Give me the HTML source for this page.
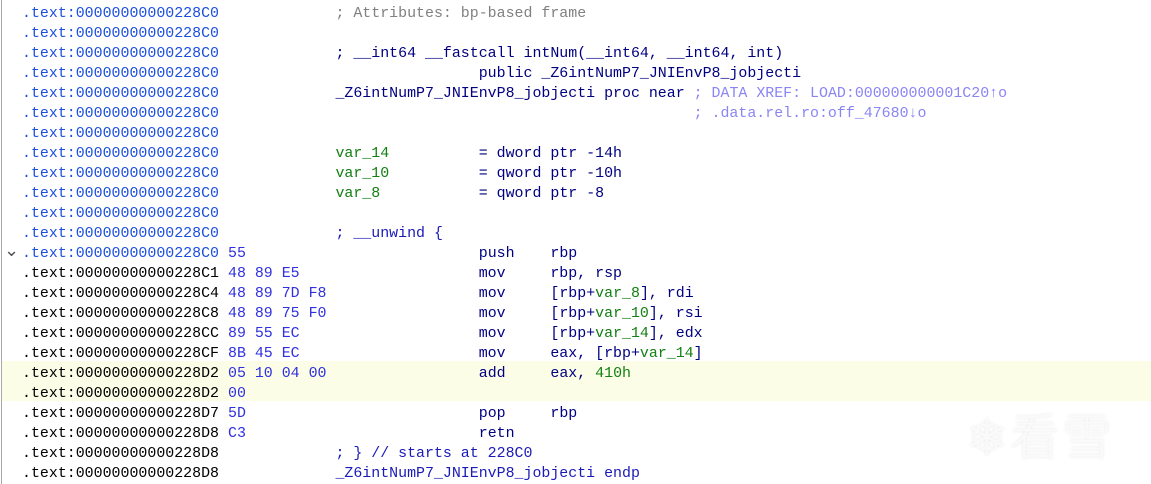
<!DOCTYPE html>
<html><head><meta charset="utf-8"><style>
html,body{margin:0;padding:0;background:#fff;width:1151px;height:484px;overflow:hidden;position:relative}
.b{position:absolute;left:1px;top:0;width:1px;height:484px;background:#a8a8a8}
.hl{position:absolute;left:2px;top:361px;width:1149px;height:40px;background:#fbfde6}
pre{margin:0;position:absolute;left:22px;top:4px;font-family:"Liberation Mono",monospace;font-size:14.93px;line-height:20px;color:#000080}
.a{color:#1c4fe0}.k{color:#000}.y{color:#3030e0}.c{color:#808080}.x{color:#8a85f5}.g{color:#128012}.n{color:#1a1ab8}.m{color:#000080}
.chev{position:absolute;left:4px;top:240px;font-family:"DejaVu Sans",sans-serif;font-size:18px;color:#555}
.wm{position:absolute;left:966px;top:398px;font-family:"Noto Sans CJK SC",sans-serif;font-size:50px;font-weight:300;color:#fafafa;letter-spacing:2px;text-shadow:0 0 3px #e8e8e8}
</style></head><body>
<div class="b"></div><div class="hl"></div>
<div class="chev">&#8964;</div>
<div class="wm">❄看雪</div>
<pre><span class="a">.text:00000000000228C0</span>             <span class="c">; Attributes: bp-based frame</span>
<span class="a">.text:00000000000228C0</span>
<span class="a">.text:00000000000228C0</span>             <span class="m">; __int64 __fastcall intNum(__int64, __int64, int)</span>
<span class="a">.text:00000000000228C0</span>                             <span class="m">public _Z6intNumP7_JNIEnvP8_jobjecti</span>
<span class="a">.text:00000000000228C0</span>             <span class="m">_Z6intNumP7_JNIEnvP8_jobjecti proc near</span> <span class="x">; DATA XREF: LOAD:000000000001C20↑o</span>
<span class="a">.text:00000000000228C0</span>                                                     <span class="x">; .data.rel.ro:off_47680↓o</span>
<span class="a">.text:00000000000228C0</span>
<span class="a">.text:00000000000228C0</span>             <span class="g">var_14</span>          <span class="m">= dword ptr -14h</span>
<span class="a">.text:00000000000228C0</span>             <span class="g">var_10</span>          <span class="m">= qword ptr -10h</span>
<span class="a">.text:00000000000228C0</span>             <span class="g">var_8</span>           <span class="m">= qword ptr -8</span>
<span class="a">.text:00000000000228C0</span>
<span class="a">.text:00000000000228C0</span>             <span class="n">; __unwind {</span>
<span class="a">.text:00000000000228C0</span> <span class="y">55</span>                          <span class="m">push    rbp</span>
<span class="k">.text:00000000000228C1</span> <span class="y">48 89 E5</span>                    <span class="m">mov     rbp, rsp</span>
<span class="k">.text:00000000000228C4</span> <span class="y">48 89 7D F8</span>                 <span class="m">mov     [rbp+<span class="g">var_8</span>], rdi</span>
<span class="k">.text:00000000000228C8</span> <span class="y">48 89 75 F0</span>                 <span class="m">mov     [rbp+<span class="g">var_10</span>], rsi</span>
<span class="k">.text:00000000000228CC</span> <span class="y">89 55 EC</span>                    <span class="m">mov     [rbp+<span class="g">var_14</span>], edx</span>
<span class="k">.text:00000000000228CF</span> <span class="y">8B 45 EC</span>                    <span class="m">mov     eax, [rbp+<span class="g">var_14</span>]</span>
<span class="k">.text:00000000000228D2</span> <span class="y">05 10 04 00</span>                 <span class="m">add     eax, <span class="g">410h</span></span>
<span class="k">.text:00000000000228D2</span> <span class="y">00</span>
<span class="k">.text:00000000000228D7</span> <span class="y">5D</span>                          <span class="m">pop     rbp</span>
<span class="k">.text:00000000000228D8</span> <span class="y">C3</span>                          <span class="m">retn</span>
<span class="k">.text:00000000000228D8</span>             <span class="n">; } // starts at 228C0</span>
<span class="k">.text:00000000000228D8</span>             <span class="n">_Z6intNumP7_JNIEnvP8_jobjecti endp</span></pre>
</body></html>
